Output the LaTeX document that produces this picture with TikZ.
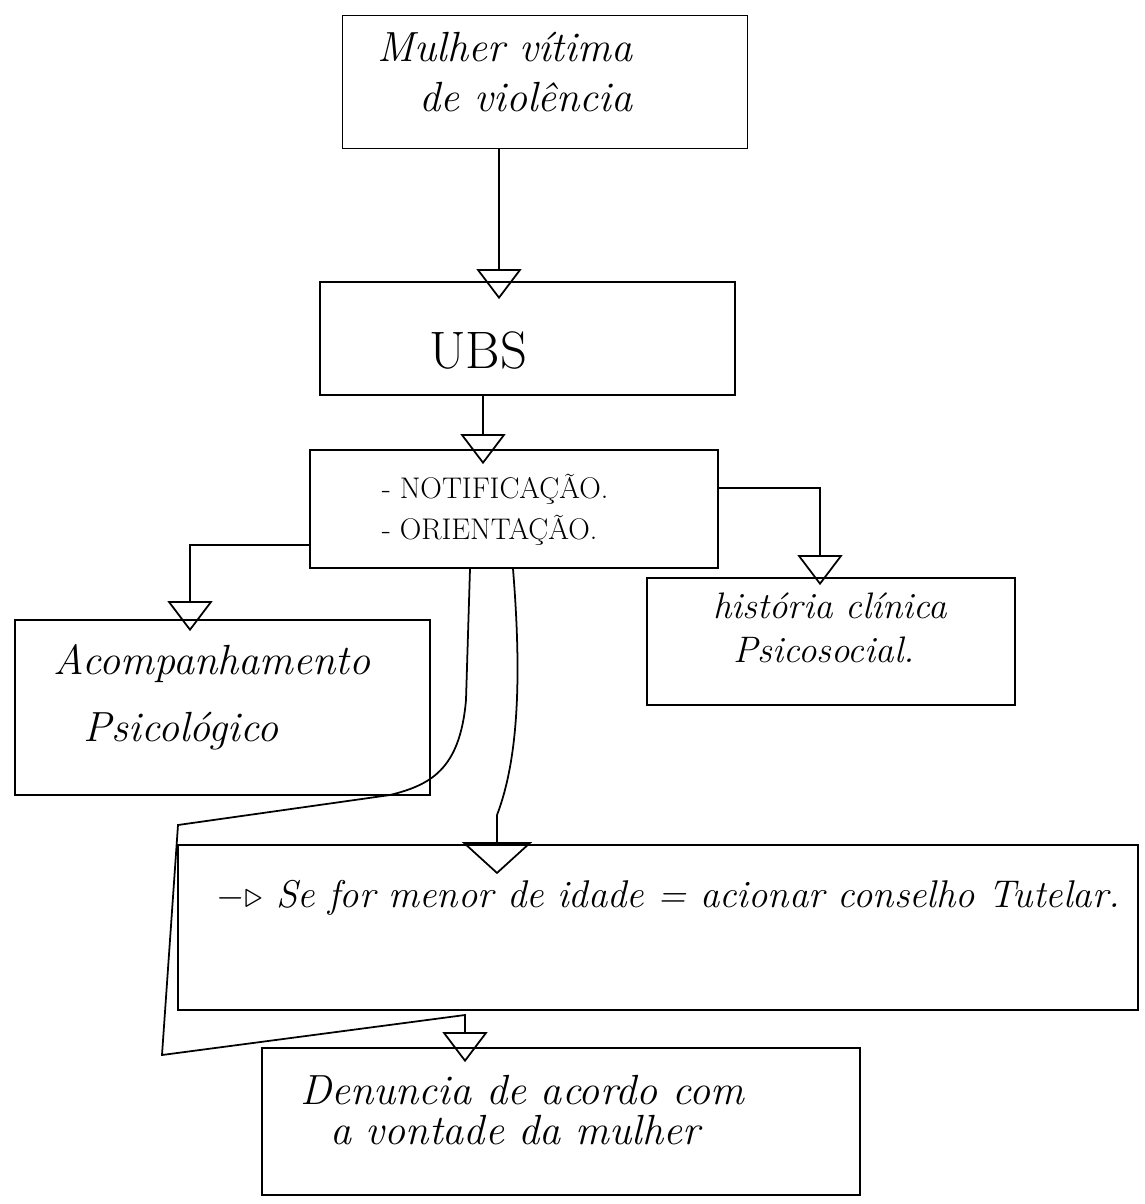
\documentclass[tikz,border=0pt]{standalone}
\usetikzlibrary{arrows.meta}
\begin{document}
\begin{tikzpicture}[x=0.02cm,y=-0.02cm,
  box/.style={draw, line width=1pt, rectangle, inner sep=0pt},
  arr/.style={draw, line width=1pt, -{Triangle[open, width=0.9cm, length=0.6cm, line width=1pt]}},
  bigarr/.style={draw, line width=1pt, -{Triangle[open, width=1.4cm, length=0.64cm, line width=1pt]}},
  hand/.style={font=\itshape\fontsize{24}{24}\selectfont, align=left, inner sep=0pt},
  caps/.style={font=\fontsize{17}{23}\selectfont, align=left, inner sep=0pt}
]
\useasboundingbox (0,0) rectangle (1144,1204);
\fill[white] (0,0) rectangle (1144,1204);

% boxes
\node[box, minimum width=8.1cm,  minimum height=2.66cm] (b1) at (545,82) {};
\node[box, minimum width=8.3cm,  minimum height=2.26cm] (b2) at (527.5,338.5) {};
\node[box, minimum width=8.16cm, minimum height=2.36cm] (b3) at (514,509) {};
\node[box, minimum width=7.36cm, minimum height=2.54cm] (b4) at (831,641.5) {};
\node[box, minimum width=8.3cm,  minimum height=3.5cm]  (b5) at (222.5,707.5) {};
\node[box, minimum width=19.2cm, minimum height=3.3cm]  (b6) at (658,927.5) {};
\node[box, minimum width=11.96cm,minimum height=2.94cm] (b7) at (561,1121.5) {};

% texts
\node[hand] (t1) at (505,72) {Mulher vítima\\[4pt]\quad de violência};
\node[font=\fontsize{30}{30}\selectfont, inner sep=0pt] (t2) at (478,350) {UBS};
\node[caps] (t3) at (495,510) {-\ NOTIFICAÇÃO.\\-\ ORIENTAÇÃO.};
\node[hand, font=\itshape\fontsize{21}{25}\selectfont] (t4) at (830,628) {história clínica\\\hspace{0.4cm}Psicosocial.};
\node[hand, font=\itshape\fontsize{24}{38}\selectfont] (t5) at (212,697) {Acompanhamento\\\hspace{0.6cm}Psicológico};
\node[hand, font=\itshape\fontsize{22}{22}\selectfont] (t6) at (668,898) {$-\triangleright$\ Se for menor de idade = acionar conselho Tutelar.};
\node[hand] (t7) at (522,1110) {Denuncia de acordo com\\[-1pt]\hspace{0.6cm}a vontade da mulher};

% helper positions
\coordinate (x499) at (499,0);
\coordinate (x483) at (483,0);
\coordinate (x470) at (470,0);
\coordinate (x513) at (513,0);
\coordinate (x497) at (497,0);
\coordinate (x465) at (465,0);
\coordinate (j1) at (820,488);
\coordinate (j2) at (190,545);

% connectors
\draw[arr, shorten >=-0.36cm] (b1.south -| x499) -- (b2.north -| x499);
\draw[arr, shorten >=-0.3cm]  (b2.south -| x483) -- (b3.north -| x483);
\draw[arr, shorten >=-0.16cm] (b3.east |- j1) -| (b4.north -| j1);
\draw[arr, shorten >=-0.24cm] (b3.west |- j2) -| (b5.north -| j2);
\draw[bigarr, shorten >=-0.6cm] (b3.south -| x513) .. controls (522,680) and (518,760) .. (497,815) -- (b6.north -| x497);
\draw[arr, shorten >=-0.3cm]  (b3.south -| x470) -- (466,700)
   .. controls (460,770) and (430,785) .. (390,795) -- (178,825) -- (162,1055) -- (465,1015)
   -- (b7.north -| x465);
\end{tikzpicture}
\end{document}
